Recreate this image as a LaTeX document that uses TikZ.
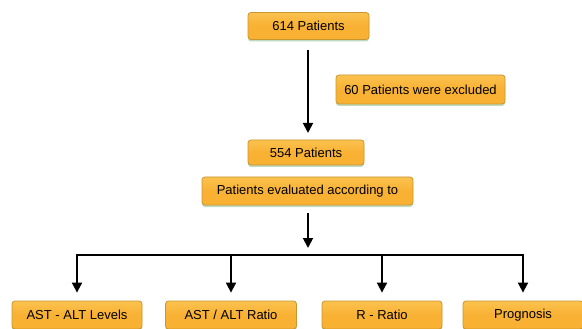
\documentclass[tikz,border=0pt]{standalone}
\usepackage{fontspec}
\setmainfont{Liberation Sans}
\usetikzlibrary{arrows.meta,shadows}
\definecolor{boxfill}{HTML}{F8B133}
\definecolor{boxtop}{HTML}{FBC24F}
\definecolor{boxedge}{HTML}{C9952E}
\tikzset{
  boxnode/.style={draw=boxedge, line width=0.8pt, rounded corners=3pt,
    top color=boxtop, bottom color=boxfill, middle color=boxfill,
    drop shadow={opacity=0.25, shadow xshift=0pt, shadow yshift=-2pt, fill=black!60!green},
    font=\fontsize{13}{15}\selectfont, inner sep=0pt, align=center},
  arr/.style={line width=1.8pt, -{Triangle[length=10pt,width=10pt]}},
  plain/.style={line width=1.8pt}
}
\begin{document}
\begin{tikzpicture}[x=1pt,y=-1pt]
\useasboundingbox (0,0) rectangle (582,329);
\node[boxnode, minimum width=121pt, minimum height=27pt] (p614) at (308.5,26) {614 Patients};
\node[boxnode, minimum width=169pt, minimum height=29pt] (excl) at (420.5,89.5) {60 Patients were excluded};
\node[boxnode, minimum width=116pt, minimum height=25pt] (p554) at (306,152.5) {554 Patients};
\node[boxnode, minimum width=211pt, minimum height=28pt] (eval) at (307.5,191) {Patients evaluated according to};
\node[boxnode, minimum width=130pt, minimum height=28pt] (b1) at (77,315) {AST - ALT Levels};
\node[boxnode, minimum width=131pt, minimum height=28pt] (b2) at (231,315) {AST / ALT Ratio};
\node[boxnode, minimum width=120pt, minimum height=28pt] (b3) at (382,315) {R - Ratio};
\node[boxnode, minimum width=120pt, minimum height=28pt] (b4) at (523,315) {Prognosis};
\coordinate (t1) at (308,50);
\coordinate (t2) at (308,133);
\coordinate (e1) at (308,213);
\coordinate (e2) at (308,248);
\coordinate (j) at (308,255);
\draw[arr] (t1) -- (t2);
\draw[arr] (e1) -- (e2);
\draw[arr, shorten >=8pt] (j) -| (b1);
\draw[arr, shorten >=8pt] (j) -| (b2);
\draw[arr, shorten >=8pt] (j) -| (b3);
\draw[arr, shorten >=8pt] (j) -| (b4);
\end{tikzpicture}
\end{document}
